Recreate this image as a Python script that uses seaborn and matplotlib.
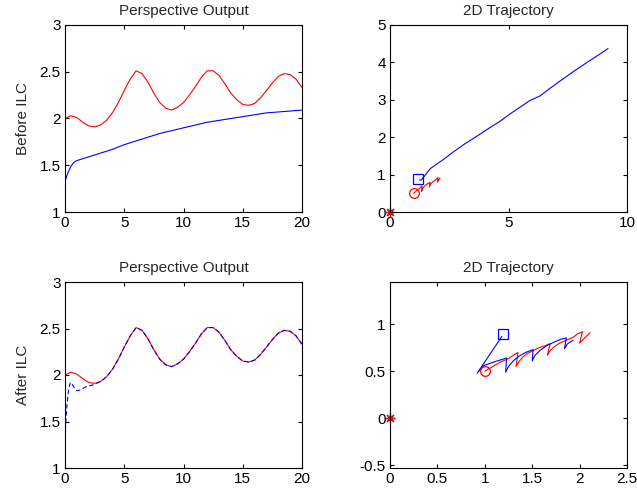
import matplotlib
matplotlib.use("Agg")
import matplotlib.pyplot as plt
import seaborn as sns
import pandas as pd
from matplotlib.ticker import FormatStrFormatter

# ---------------- data ----------------
# Perspective output: desired (red) sampled every 0.5 s
t_red = [0, 0.5, 1, 1.5, 2, 2.5, 3, 3.5, 4, 4.5, 5, 5.5, 6, 6.5, 7, 7.5, 8, 8.5,
         9, 9.5, 10, 10.5, 11, 11.5, 12, 12.5, 13, 13.5, 14, 14.5, 15, 15.5,
         16, 16.5, 17, 17.5, 18, 18.5, 19, 19.5, 20]
y_red = [2.00, 2.03, 2.01, 1.96, 1.92, 1.91, 1.93, 1.98, 2.06, 2.17, 2.30, 2.42,
         2.51, 2.48, 2.39, 2.27, 2.17, 2.11, 2.09, 2.12, 2.17, 2.25, 2.34, 2.44,
         2.51, 2.51, 2.46, 2.37, 2.27, 2.20, 2.15, 2.14, 2.16, 2.22, 2.30, 2.38,
         2.45, 2.48, 2.47, 2.42, 2.33]

# Before ILC (blue)
t_before = [0, 0.25, 0.5, 0.75, 1, 1.5, 2, 3, 4, 5, 6, 7, 8, 9, 10, 11, 12, 13,
            14, 15, 16, 17, 18, 19, 20]
y_before = [1.33, 1.42, 1.49, 1.53, 1.55, 1.57, 1.59, 1.63, 1.67, 1.72, 1.76,
            1.80, 1.84, 1.87, 1.90, 1.93, 1.96, 1.98, 2.00, 2.02, 2.04, 2.06,
            2.07, 2.08, 2.09]

# After ILC (blue dashed)
t_after = [0, 0.05, 0.1, 0.2, 0.3, 0.45, 0.6, 0.8, 1.0, 1.3, 1.7, 2.0, 2.5, 3.0,
           3.5, 4, 4.5, 5, 5.5, 6, 6.5, 7, 7.5, 8, 8.5, 9, 9.5, 10, 10.5, 11,
           11.5, 12, 12.5, 13, 13.5, 14, 14.5, 15, 15.5, 16, 16.5, 17, 17.5,
           18, 18.5, 19, 19.5, 20]
y_after = [1.33, 1.45, 1.57, 1.72, 1.84, 1.92, 1.90, 1.86, 1.83, 1.84, 1.87,
           1.88, 1.90, 1.93, 1.98, 2.06, 2.17, 2.30, 2.42, 2.51, 2.48, 2.39,
           2.27, 2.17, 2.11, 2.09, 2.12, 2.17, 2.25, 2.34, 2.44, 2.51, 2.51,
           2.46, 2.37, 2.27, 2.20, 2.15, 2.14, 2.16, 2.22, 2.30, 2.38, 2.45,
           2.48, 2.47, 2.42, 2.33]

# 2D trajectory: desired (red)
x_traj_red = [1.00, 1.05, 1.10, 1.17, 1.24, 1.30, 1.35, 1.33, 1.36, 1.40, 1.45,
              1.51, 1.57, 1.63, 1.69, 1.66, 1.69, 1.73, 1.79, 1.86, 1.93, 1.98,
              2.03, 2.00, 2.05, 2.11]
y_traj_red = [0.50, 0.53, 0.56, 0.60, 0.63, 0.67, 0.70, 0.55, 0.60, 0.65, 0.69,
              0.72, 0.75, 0.77, 0.795, 0.67, 0.72, 0.76, 0.80, 0.83, 0.86, 0.90,
              0.92, 0.80, 0.85, 0.91]

# 2D trajectory before ILC (blue)
x_traj_before = [1.25, 1.33, 1.70, 2.20, 2.70, 3.20, 3.65, 4.20, 4.63, 5.06,
                 5.48, 5.90, 6.32, 6.80, 7.30, 7.80, 8.29, 8.80, 9.20]
y_traj_before = [0.85, 0.86, 1.16, 1.38, 1.62, 1.84, 2.02, 2.25, 2.42, 2.62,
                 2.80, 2.98, 3.10, 3.33, 3.56, 3.78, 3.99, 4.20, 4.37]

# 2D trajectory after ILC (blue)
x_traj_after = [1.18, 0.92, 0.99, 1.10, 1.23, 1.22, 1.25, 1.30, 1.36, 1.43, 1.51,
                1.50, 1.53, 1.58, 1.65, 1.73, 1.80, 1.86, 1.84, 1.87, 1.93]
y_traj_after = [0.87, 0.48, 0.56, 0.60, 0.64, 0.49, 0.55, 0.61, 0.66, 0.70, 0.73,
                0.61, 0.67, 0.72, 0.77, 0.81, 0.84, 0.855, 0.74, 0.79, 0.83]

start_marker = (1.0, 0.5)      # circle
robot_marker = (1.19, 0.90)    # square
robot_marker_before = (1.17, 0.89)
origin = (0.0, 0.0)            # star

# ---------------- style ----------------
sns.set_style("white")
plt.rcParams['font.family'] = ['Liberation Sans', 'DejaVu Sans']
FS = 11
plt.rcParams['font.size'] = FS

RED = (1, 0, 0)
BLUE = (0, 0, 1)
LW = 0.8

fig = plt.figure(figsize=(6.37, 4.99), dpi=100)
W, H = 637, 499


def add_ax(l, t, r, b):
    return fig.add_axes([l / W, 1 - b / H, (r - l) / W, (b - t) / H])


ax1 = add_ax(65, 25, 302, 212)
ax2 = add_ax(390, 25, 627, 212)
ax3 = add_ax(65, 282, 302, 468)
ax4 = add_ax(390, 282, 627, 468)


def style(ax):
    for s in ax.spines.values():
        s.set_visible(True)
        s.set_color('black')
        s.set_linewidth(0.8)
    ax.tick_params(direction='in', length=3, width=0.8, top=True, right=True,
                   bottom=True, left=True, labelsize=FS, colors='black', pad=3)
    ax.xaxis.set_major_formatter(FormatStrFormatter('%g'))
    ax.yaxis.set_major_formatter(FormatStrFormatter('%g'))
    ax.set_facecolor('white')


# Top-left: perspective output before ILC
sns.lineplot(x=t_red, y=y_red, ax=ax1, color=RED, linewidth=LW, estimator=None, sort=False)
sns.lineplot(x=t_before, y=y_before, ax=ax1, color=BLUE, linewidth=LW, estimator=None, sort=False)
ax1.set_xlim(0, 20)
ax1.set_ylim(1, 3)
ax1.set_xticks([0, 5, 10, 15, 20])
ax1.set_yticks([1, 1.5, 2, 2.5, 3])
ax1.set_title("Perspective Output", fontsize=FS, pad=7)
ax1.set_ylabel("Before ILC", fontsize=FS, labelpad=7)

# Top-right: 2D trajectory before ILC
sns.lineplot(x=x_traj_red, y=y_traj_red, ax=ax2, color=RED, linewidth=LW, estimator=None, sort=False)
sns.lineplot(x=x_traj_before, y=y_traj_before, ax=ax2, color=BLUE, linewidth=LW, estimator=None, sort=False)
ax2.plot([start_marker[0]], [start_marker[1]], 'o', mfc='none', mec=RED, ms=7, mew=0.9)
ax2.plot([robot_marker_before[0]], [robot_marker_before[1]], 's', mfc='none', mec=BLUE, ms=7, mew=0.9)
ax2.plot([origin[0]], [origin[1]], marker=(8, 2, 0), color=RED, ms=7, mew=0.9, clip_on=False, ls='none')
ax2.set_xlim(0, 10)
ax2.set_ylim(0, 5)
ax2.set_xticks([0, 5, 10])
ax2.set_yticks([0, 1, 2, 3, 4, 5])
ax2.set_title("2D Trajectory", fontsize=FS, pad=7)

# Bottom-left: perspective output after ILC
sns.lineplot(x=t_red, y=y_red, ax=ax3, color=RED, linewidth=LW, estimator=None, sort=False)
sns.lineplot(x=t_after, y=y_after, ax=ax3, color=BLUE, linewidth=LW, estimator=None, sort=False,
             linestyle='--', dashes=False)
ax3.lines[-1].set_dashes((4, 2.5))
ax3.set_xlim(0, 20)
ax3.set_ylim(1, 3)
ax3.set_xticks([0, 5, 10, 15, 20])
ax3.set_yticks([1, 1.5, 2, 2.5, 3])
ax3.set_title("Perspective Output", fontsize=FS, pad=7)
ax3.set_ylabel("After ILC", fontsize=FS, labelpad=7)

# Bottom-right: 2D trajectory after ILC
sns.lineplot(x=x_traj_red, y=y_traj_red, ax=ax4, color=RED, linewidth=LW, estimator=None, sort=False)
sns.lineplot(x=x_traj_after, y=y_traj_after, ax=ax4, color=BLUE, linewidth=LW, estimator=None, sort=False)
ax4.plot([start_marker[0]], [start_marker[1]], 'o', mfc='none', mec=RED, ms=7, mew=0.9)
ax4.plot([robot_marker[0]], [robot_marker[1]], 's', mfc='none', mec=BLUE, ms=7, mew=0.9)
ax4.plot([origin[0]], [origin[1]], marker=(8, 2, 0), color=RED, ms=7, mew=0.9, clip_on=False, ls='none')
ax4.set_xlim(0, 2.5)
ax4.set_ylim(-0.53, 1.45)
ax4.set_xticks([0, 0.5, 1, 1.5, 2, 2.5])
ax4.set_yticks([-0.5, 0, 0.5, 1])
ax4.set_title("2D Trajectory", fontsize=FS, pad=7)

for ax in (ax1, ax2, ax3, ax4):
    style(ax)
    ax.set_xlabel("")

fig.savefig("out.png", dpi=100, facecolor='white')
